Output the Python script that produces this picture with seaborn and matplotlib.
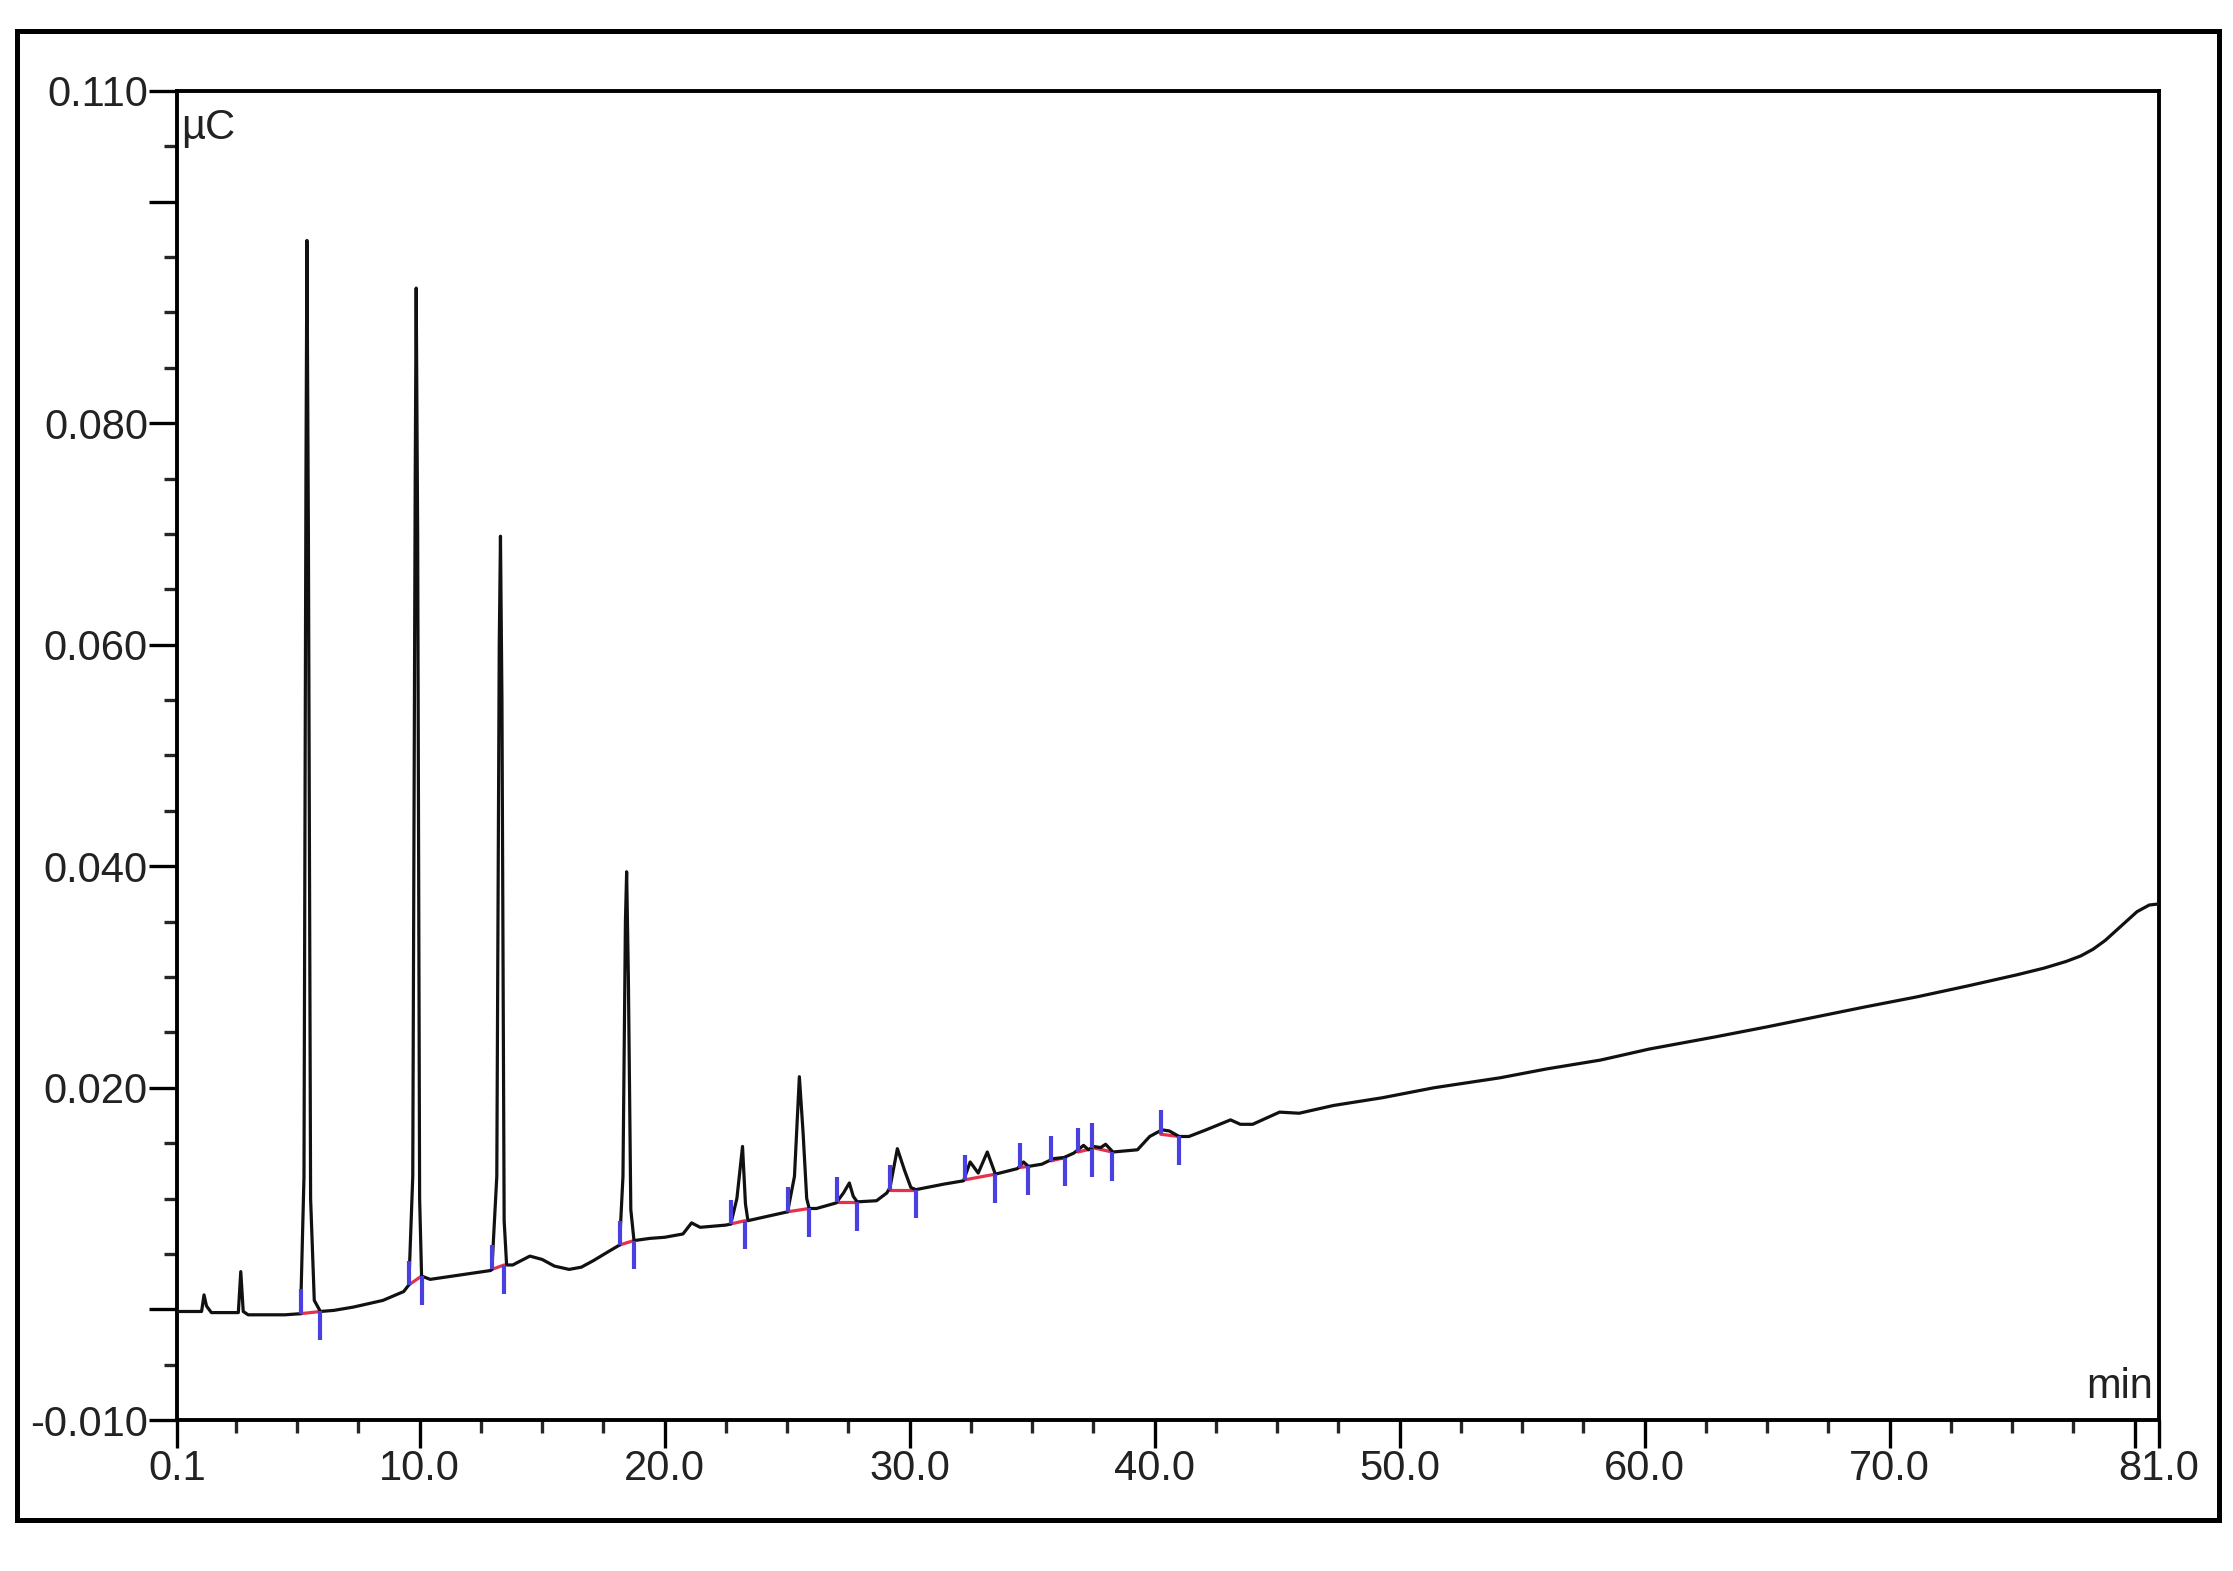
import matplotlib
matplotlib.use("Agg")
import matplotlib.pyplot as plt
import seaborn as sns
import pandas as pd
from matplotlib.patches import Rectangle
from matplotlib.ticker import MultipleLocator

# chromatogram trace (time in min, signal in uC)
time_min = [
    0.1, 1.1, 1.2, 1.3, 1.5, 2.6, 2.7, 2.8, 3.0, 4.5,
    5.14, 5.28, 5.36, 5.40, 5.46, 5.55, 5.70, 5.95, 6.5, 7.3,
    8.5, 9.35, 9.56, 9.72, 9.82, 9.86, 9.92, 10.0, 10.08, 10.43,
    11.65, 12.9, 12.95, 13.15, 13.25, 13.30, 13.36, 13.45, 13.55, 13.8,
    14.5, 15.0, 15.5, 16.1, 16.6, 17.1, 17.7, 18.16, 18.30, 18.40,
    18.45, 18.52, 18.62, 18.75, 19.4, 20.0, 20.75, 21.1, 21.45, 22.5,
    22.7, 22.95, 23.18, 23.30, 23.4, 24.8, 25.02, 25.3, 25.5, 25.65,
    25.8, 25.9, 26.2, 27.0, 27.3, 27.54, 27.7, 27.86, 28.65, 29.07,
    29.2, 29.5, 29.8, 30.05, 30.25, 31.4, 32.2, 32.47, 32.8, 33.17,
    33.5, 34.4, 34.65, 34.85, 35.4, 35.87, 36.3, 36.7, 37.1, 37.3,
    37.5, 37.8, 38.0, 38.3, 39.3, 39.8, 40.3, 40.6, 41.0, 41.4,
    42.1, 43.1, 43.5, 44.0, 45.1, 45.9, 47.3, 49.3, 51.4, 54.1,
    56.0, 58.2, 60.2, 62.9, 65.0, 67.0, 69.0, 71.1, 73.2, 75.2,
    76.3, 77.2, 77.8, 78.3, 78.8, 79.25, 79.7, 80.1, 80.6, 81.0,
]
signal_uC = [
    -0.0002, -0.0002, 0.0013, 0.0003, -0.0003, -0.0003, 0.0034, -0.0002, -0.0005, -0.0005,
    -0.0004, 0.012, 0.075, 0.0965, 0.070, 0.010, 0.0008, -0.0002, -0.0001, 0.0002,
    0.0008, 0.0016, 0.0022, 0.012, 0.075, 0.0922, 0.070, 0.010, 0.0030, 0.0027,
    0.0031, 0.0035, 0.0036, 0.012, 0.060, 0.0698, 0.055, 0.008, 0.0040, 0.0040,
    0.0048, 0.0045, 0.0039, 0.0036, 0.0038, 0.0044, 0.0052, 0.0058, 0.012, 0.035,
    0.0395, 0.030, 0.009, 0.0062, 0.0064, 0.0065, 0.0068, 0.0078, 0.0074, 0.0076,
    0.0077, 0.0100, 0.0147, 0.0095, 0.0080, 0.0087, 0.0088, 0.012, 0.0210, 0.0160,
    0.0100, 0.0091, 0.0091, 0.0096, 0.0105, 0.0114, 0.0102, 0.0097, 0.0098, 0.0105,
    0.0110, 0.0145, 0.0125, 0.0110, 0.0108, 0.0113, 0.0116, 0.0133, 0.0123, 0.0142,
    0.0122, 0.0127, 0.0133, 0.0129, 0.0131, 0.0136, 0.0137, 0.0141, 0.0148, 0.0144,
    0.0147, 0.0146, 0.0149, 0.0142, 0.0144, 0.0156, 0.0162, 0.0161, 0.0156, 0.0156,
    0.0162, 0.0171, 0.0167, 0.0167, 0.0178, 0.0177, 0.0184, 0.0191, 0.0200, 0.0209,
    0.0217, 0.0225, 0.0235, 0.0246, 0.0255, 0.0264, 0.0273, 0.0282, 0.0292, 0.0302,
    0.0308, 0.0314, 0.0319, 0.0325, 0.0333, 0.0342, 0.0351, 0.0359, 0.0365, 0.0366,
]

# peak delimiters (start = tick up, end = tick down)
peak_start_min = [5.14, 9.56, 12.95, 18.16, 22.7, 25.02, 27.05, 29.2, 32.28, 34.49, 35.77, 36.87, 37.45, 40.25]
peak_start_level = [-0.0004, 0.0022, 0.0036, 0.0058, 0.0077, 0.0088, 0.0097, 0.0108, 0.0117, 0.0128, 0.0134, 0.0142, 0.0146, 0.0158]
peak_end_min = [5.95, 10.08, 13.45, 18.74, 23.28, 25.89, 27.86, 30.25, 33.5, 34.84, 36.35, 37.45, 38.27, 41.0]
peak_end_level = [-0.0002, 0.0030, 0.0040, 0.0062, 0.0080, 0.0091, 0.0097, 0.0108, 0.0122, 0.0129, 0.0137, 0.0145, 0.0142, 0.0156]

x_ticks = [0.1, 10, 20, 30, 40, 50, 60, 70, 80, 81]
x_tick_labels = ["0.1", "10.0", "20.0", "30.0", "40.0", "50.0", "60.0", "70.0", "", "81.0"]
y_ticks = [-0.010, 0.0, 0.020, 0.040, 0.060, 0.080, 0.100, 0.110]
y_tick_labels = ["-0.010", "", "0.020", "0.040", "0.060", "0.080", "", "0.110"]

sns.set_style("ticks")
plt.rcParams["font.family"] = ["Liberation Sans", "DejaVu Sans"]

fig = plt.figure(figsize=(22.33, 15.71), dpi=100)
ax = fig.add_axes([0.0793, 0.0961, 0.8876, 0.8460])

trace = pd.DataFrame({"time": time_min, "signal": signal_uC})
sns.lineplot(data=trace, x="time", y="signal", sort=False, estimator=None,
             color="#111111", linewidth=2.3, ax=ax, zorder=3)

# red baselines under integrated peaks
for x0, y0, x1, y1 in zip(peak_start_min, peak_start_level, peak_end_min, peak_end_level):
    ax.plot([x0, x1], [y0, y1], color="#e8304a", linewidth=2.3, zorder=2)

blue = "#4a3fe0"
ax.vlines(peak_start_min, peak_start_level, [v + 0.0022 for v in peak_start_level],
          color=blue, linewidth=3, zorder=4)
ax.vlines(peak_end_min, peak_end_level, [v - 0.0026 for v in peak_end_level],
          color=blue, linewidth=3, zorder=4)

ax.set_xlim(0.1, 81.0)
ax.set_ylim(-0.010, 0.110)
ax.set_xticks(x_ticks)
ax.set_xticklabels(x_tick_labels)
ax.set_yticks(y_ticks)
ax.set_yticklabels(y_tick_labels)
ax.xaxis.set_minor_locator(MultipleLocator(2.5))
ax.yaxis.set_minor_locator(MultipleLocator(0.005))
ax.tick_params(which="major", length=20, width=2.4, direction="out",
               labelsize=30, pad=1, colors="black", labelcolor="#222222")
ax.tick_params(which="minor", length=9.5, width=2.4, direction="out")
ax.set_xlabel("")
ax.set_ylabel("")

for side in ["left", "right", "top", "bottom"]:
    ax.spines[side].set_visible(True)
    ax.spines[side].set_linewidth(2.8)
    ax.spines[side].set_color("black")

ax.text(0.002, 0.987, "µC", transform=ax.transAxes, ha="left", va="top",
        fontsize=30, color="#222222")
ax.text(0.997, 0.010, "min", transform=ax.transAxes, ha="right", va="bottom",
        fontsize=30, color="#222222")

fig.add_artist(Rectangle((0.0076, 0.0325), 0.9861, 0.9478, transform=fig.transFigure,
                         fill=False, edgecolor="black", linewidth=3.6))

fig.savefig("out.png", dpi=100)
